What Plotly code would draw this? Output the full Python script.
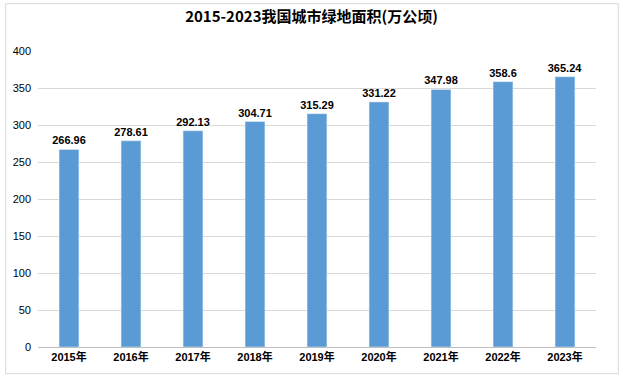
import plotly.graph_objects as go

years = ["2015年", "2016年", "2017年", "2018年", "2019年", "2020年", "2021年", "2022年", "2023年"]
values = [266.96, 278.61, 292.13, 304.71, 315.29, 331.22, 347.98, 358.6, 365.24]
labels = ["266.96", "278.61", "292.13", "304.71", "315.29", "331.22", "347.98", "358.6", "365.24"]

fig = go.Figure(go.Bar(
    x=years, y=values, text=["<b>%s</b>" % t for t in labels], textposition="outside",
    constraintext="none",
    textfont=dict(family="Liberation Sans, Arial", size=11, color="#000000"),
    marker=dict(color="#5B9BD5"), cliponaxis=False,
))
fig.update_layout(
    width=623, height=380,
    margin=dict(l=38, r=27, t=51, b=33),
    paper_bgcolor="white", plot_bgcolor="white",
    title=dict(text="<b>2015-2023我国城市绿地面积(万公顷)</b>", x=0.5, xanchor="center", y=0.955, yanchor="middle",
               font=dict(family="Noto Sans CJK SC", size=15, color="#000000")),
    bargap=0.68,
    showlegend=False,
    xaxis=dict(tickfont=dict(family="Liberation Sans, Noto Sans CJK SC", size=11, color="#000000"),
               tickvals=years, ticktext=["<b>%s</b>" % y for y in years],
               showline=True, linecolor="#BFBFBF", ticks=""),
    yaxis=dict(range=[0, 400], dtick=50, showgrid=True, gridcolor="#D9D9D9",
               tickfont=dict(family="Liberation Sans, Arial", size=11, color="#000000"),
               zeroline=False, ticks="", ticklabelstandoff=6),
)
fig.add_shape(type="rect", xref="paper", yref="paper", x0=-0.058, x1=1.04, y0=-0.09, y1=1.16,
              line=dict(color="#D9D9D9", width=1))
fig.write_html("out.html")
